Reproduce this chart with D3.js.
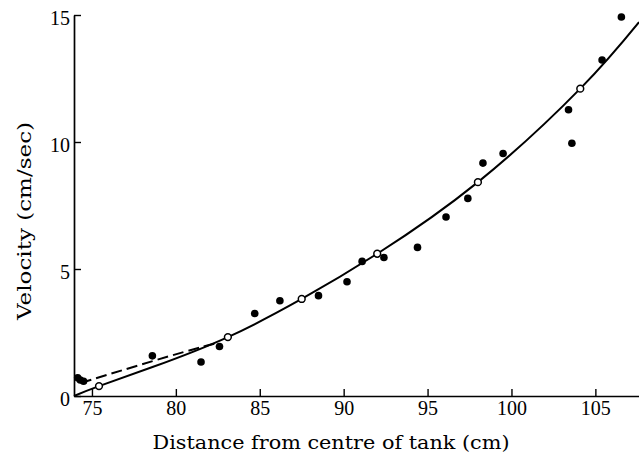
<!DOCTYPE html>
<html>
<head>
<meta charset="utf-8">
<script src="https://cdn.jsdelivr.net/npm/d3@7"></script>
<style>
  body { margin: 0; background: #fff; }
  svg { display: block; }
</style>
</head>
<body>
<div class="chart"></div>
<script>
const width = 639
const height = 455

const xTicks = [75, 80, 85, 90, 95, 100, 105]
const yTicks = [0, 5, 10, 15]

const filledX = [74.15, 74.3, 74.5, 78.6, 81.5, 82.6, 84.7, 86.2, 88.5, 90.2, 91.1, 92.4, 94.4, 96.1, 97.4, 98.3, 99.5, 103.4, 103.6, 105.4, 106.55]
const filledY = [0.72, 0.63, 0.58, 1.58, 1.34, 1.95, 3.25, 3.75, 3.95, 4.5, 5.3, 5.45, 5.85, 7.05, 7.78, 9.17, 9.55, 11.27, 9.95, 13.23, 14.92]

const openX = [75.42, 83.1, 87.5, 92.0, 98.0, 104.1]
const openY = [0.39, 2.32, 3.82, 5.6, 8.42, 12.1]

const solidX = [73.93, 75.42, 78.65, 83.1, 87.5, 92.0, 98.0, 104.1, 107.6]
const solidY = [0, 0.39, 1.15, 2.32, 3.82, 5.6, 8.42, 12.1, 14.72]

const dashX = [74.6, 75.0, 78.65, 81.6, 82.4]
const dashY = [0.57, 0.65, 1.38, 1.94, 2.07]

const zip = (xs, ys) => xs.map((x, i) => [x, ys[i]])

const x = d3.scaleLinear().domain([73.93, 107.6]).range([74, 639])
const y = d3.scaleLinear().domain([0, 15]).range([396, 15])

const svg = d3.create("svg")
  .attr("width", width)
  .attr("height", height)
  .attr("viewBox", [0, 0, width, height])

const tickFont = "20px 'Liberation Serif', 'Times New Roman', serif"

const xAxis = svg.append("g")
  .attr("transform", `translate(0,${y(0)})`)
  .call(d3.axisBottom(x).tickValues(xTicks).tickSize(-7).tickSizeOuter(0).tickPadding(5))
xAxis.select(".domain").attr("stroke-width", 1.7)
xAxis.selectAll(".tick line").attr("stroke-width", 1.4)
xAxis.selectAll("text").style("font", tickFont).attr("fill", "#000")

const yAxis = svg.append("g")
  .attr("transform", `translate(${x.range()[0]},0)`)
  .call(d3.axisLeft(y).tickValues(yTicks).tickSize(-7).tickSizeOuter(0).tickPadding(4))
yAxis.select(".domain").attr("stroke-width", 1.7)
yAxis.selectAll(".tick line").attr("stroke-width", 1.4)
yAxis.selectAll("text").style("font", tickFont).attr("fill", "#000").attr("dy", "0.45em")

const line = d3.line()
  .x(d => x(d[0]))
  .y(d => y(d[1]))
  .curve(d3.curveNatural)

svg.append("path")
  .datum(zip(solidX, solidY))
  .attr("fill", "none")
  .attr("stroke", "#000")
  .attr("stroke-width", 2)
  .attr("d", line)

svg.append("path")
  .datum(zip(dashX, dashY))
  .attr("fill", "none")
  .attr("stroke", "#000")
  .attr("stroke-width", 2)
  .attr("stroke-dasharray", "11,5")
  .attr("d", line)

svg.append("g")
  .selectAll("circle")
  .data(zip(filledX, filledY))
  .join("circle")
  .attr("cx", d => x(d[0]))
  .attr("cy", d => y(d[1]))
  .attr("r", 3.8)
  .attr("fill", "#000")

svg.append("g")
  .selectAll("circle")
  .data(zip(openX, openY))
  .join("circle")
  .attr("cx", d => x(d[0]))
  .attr("cy", d => y(d[1]))
  .attr("r", 3.4)
  .attr("fill", "#fff")
  .attr("stroke", "#000")
  .attr("stroke-width", 1.5)

const titleFont = "18px 'DejaVu Serif', serif"

svg.append("text")
  .attr("x", 331)
  .attr("y", 449)
  .attr("text-anchor", "middle")
  .attr("textLength", 357)
  .attr("lengthAdjust", "spacingAndGlyphs")
  .style("font", titleFont)
  .text("Distance from centre of tank (cm)")

svg.append("text")
  .attr("transform", "translate(31,221) rotate(-90)")
  .attr("text-anchor", "middle")
  .attr("textLength", 198)
  .attr("lengthAdjust", "spacingAndGlyphs")
  .style("font", titleFont)
  .text("Velocity (cm/sec)")

document.querySelector(".chart").append(svg.node())
</script>
</body>
</html>
